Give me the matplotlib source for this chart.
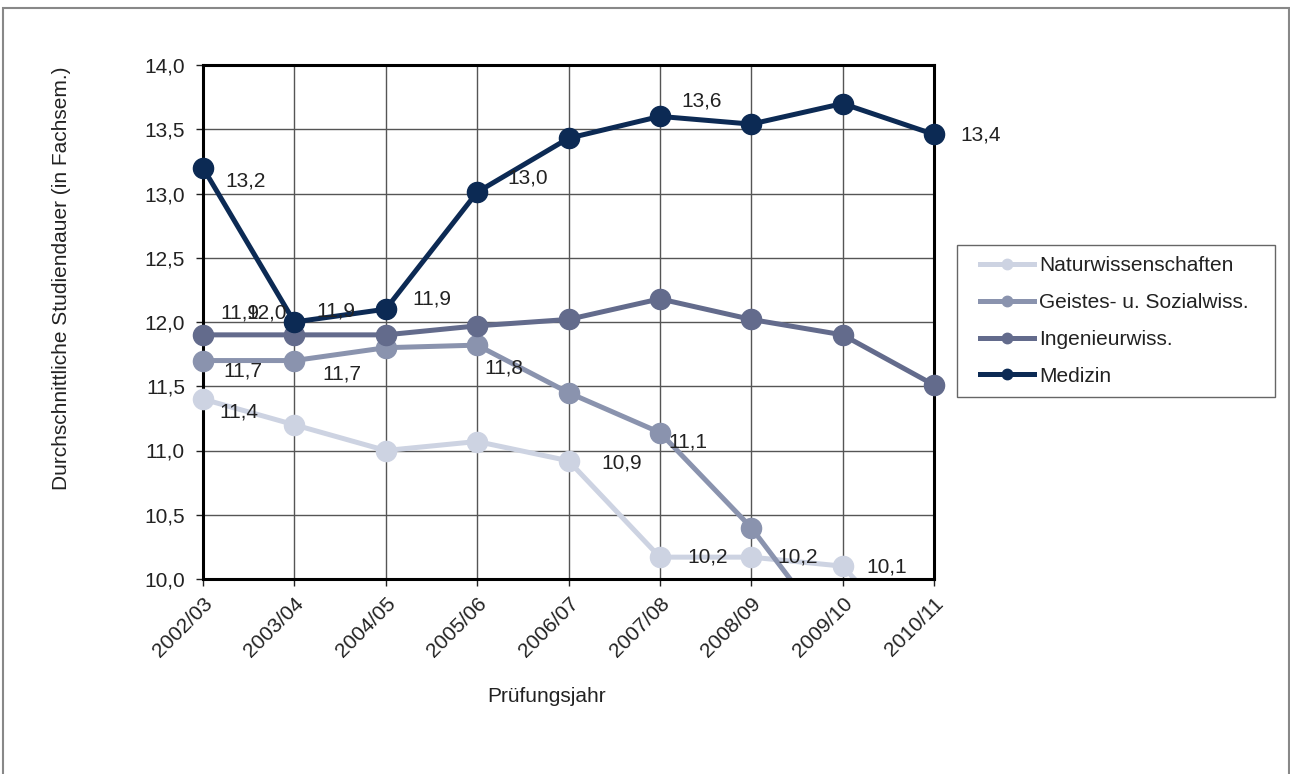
import numpy as np
import matplotlib
matplotlib.use("Agg")
import matplotlib.pyplot as plt
from matplotlib.lines import Line2D
from matplotlib.patches import Rectangle
from matplotlib.ticker import FuncFormatter

plt.rcParams['font.family'] = ['Liberation Sans', 'DejaVu Sans']

#%%% data
years = ['2002/03', '2003/04', '2004/05', '2005/06', '2006/07',
         '2007/08', '2008/09', '2009/10', '2010/11']
names = ['Naturwissenschaften', 'Geistes- u. Sozialwiss.', 'Ingenieurwiss.', 'Medizin']
natur = [11.40, 11.20, 11.00, 11.07, 10.92, 10.17, 10.17, 10.10, 9.33]
geistes = [11.70, 11.70, 11.80, 11.82, 11.45, 11.14, 10.40, 9.46, 9.00]
ingenieur = [11.90, 11.90, 11.90, 11.97, 12.02, 12.18, 12.02, 11.90, 11.51]
medizin = [13.20, 12.00, 12.10, 13.01, 13.43, 13.60, 13.54, 13.70, 13.46]
colors = ['#cdd3e2', '#8a93ae', '#636b8c', '#0c2a54']

# data labels: (series index, point index, text)
labels = [(0, 0, '11,4'), (0, 4, '10,9'), (0, 5, '10,2'), (0, 6, '10,2'), (0, 7, '10,1'),
          (1, 0, '11,7'), (1, 1, '11,7'), (1, 3, '11,8'), (1, 5, '11,1'),
          (2, 0, '11,9'), (2, 1, '11,9'), (2, 2, '11,9'),
          (3, 0, '13,2'), (3, 1, '12,0'), (3, 3, '13,0'), (3, 5, '13,6'), (3, 8, '13,4')]
# where each label sits relative to its point (pixels, right / down)
label_offsets = [(36, 13), (53, 2), (48, 0), (46, 0), (44, 1),
                 (40, 10), (47, 13), (27, 23), (28, 9),
                 (37, -22), (41, -24), (46, -36),
                 (43, 13), (-28, -9), (51, -14), (42, -15), (47, 1)]

series = [natur, geistes, ingenieur, medizin]
fs = 15

#%%% plot
fig = plt.figure(figsize=(12.9, 7.74), dpi=100)
ax = fig.add_axes([203/1290, 1-579/774, (934-203)/1290, (579-65)/774])

ymin, ymax = 10.0, 14.0
x = np.arange(len(years))
for vals, c in zip(series, colors):
    v = np.array(vals)
    ax.plot(x, v, color=c, lw=3.6, zorder=3, solid_capstyle='butt')
    ok = v >= ymin
    ax.plot(x[ok], v[ok], ls='none', marker='o', ms=14.5, color=c,
            zorder=4, clip_on=False)

for (s, i, txt), (dx, dy) in zip(labels, label_offsets):
    ax.annotate(txt, (x[i], series[s][i]), xytext=(dx, -dy),
                textcoords='offset pixels', ha='center', va='center',
                fontsize=fs, color='#222222', zorder=5, annotation_clip=False)

ax.set_xlim(0, len(years)-1)
ax.set_ylim(ymin, ymax)
ax.set_xticks(x)
ax.set_xticklabels(years, rotation=45, ha='right', rotation_mode='anchor')
ax.set_yticks(np.arange(10, 14.01, 0.5))
ax.yaxis.set_major_formatter(FuncFormatter(lambda v, p: f'{v:.1f}'.replace('.', ',')))
ax.tick_params(axis='both', labelsize=fs, colors='#222222', length=5, width=1,
               direction='out', pad=8)
ax.tick_params(axis='x', pad=6)
ax.grid(True, color='#555555', lw=1)
ax.set_axisbelow(True)
for sp in ax.spines.values():
    sp.set_linewidth(2.2)
    sp.set_color('black')
    sp.set_zorder(3.5)

fig.text(62/1290, 1-278/774, 'Durchschnittliche Studiendauer (in Fachsem.)',
         rotation=90, ha='center', va='center', fontsize=fs, color='#222222')
fig.text(547/1290, 1-697/774, 'Prüfungsjahr', ha='center', va='center',
         fontsize=fs, color='#222222')

# legend: no own frame, box drawn separately
handles = [Line2D([], [], color=c, lw=3.6, marker='o', ms=7.5) for c in colors]
leg = fig.legend(handles, names, loc='upper left', bbox_to_anchor=(980/1290, 1-256/774),
                 frameon=False, fontsize=fs, handlelength=2.6, handletextpad=0.25,
                 labelspacing=0.86, borderpad=0, borderaxespad=0)
for t in leg.get_texts():
    t.set_color('#222222')
fig.patches.append(Rectangle((957/1290, 1-397/774), (1275-957)/1290, (397-245)/774,
                             transform=fig.transFigure, fill=False,
                             edgecolor='#666666', lw=1))

# outer chart border
fig.patches.append(Rectangle((3/1290, -0.05), (1289-3)/1290, 1.05-8/774,
                             transform=fig.transFigure, fill=False,
                             edgecolor='#888888', lw=1.5))

fig.savefig('out.png', dpi=100)
